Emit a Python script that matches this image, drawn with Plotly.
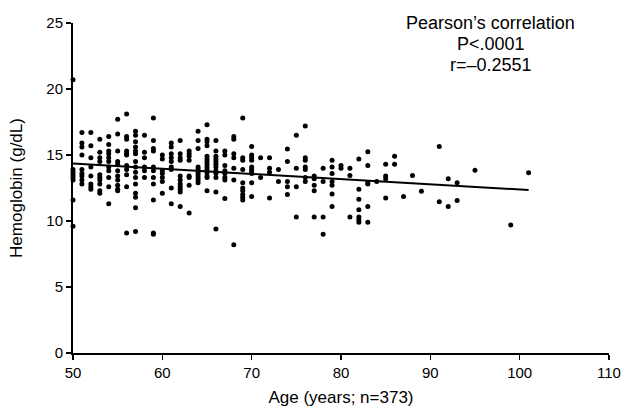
import plotly.graph_objects as go

# Points read per age column (age, hemoglobin g/dL)
age_50 = [20.7, 13.9, 13.7, 13.5, 13.3, 13.1, 11.6, 9.6]
age_51 = [16.7, 15.9, 15.6, 15.0, 13.9, 13.6, 13.4, 13.1, 12.8]
age_52 = [16.7, 15.7, 14.8, 14.1, 13.4, 12.8, 12.6, 12.4]
age_53 = [16.2, 15.2, 14.8, 14.5, 13.5, 13.3, 13.1, 12.8, 12.3, 12.1]
age_54 = [16.4, 15.8, 15.3, 15.1, 14.8, 14.5, 14.1, 13.8, 13.3, 12.6, 11.3]
age_55 = [17.7, 16.6, 15.3, 14.5, 14.3, 13.8, 13.4, 13.1, 12.7, 12.4, 12.3]
age_56 = [18.1, 16.4, 16.2, 15.3, 15.1, 15.0, 14.2, 13.9, 13.5, 12.6, 9.1]
age_57 = [16.8, 16.5, 16.0, 15.6, 15.3, 15.1, 14.5, 14.1, 13.7, 13.3, 12.8, 12.1, 11.8, 11.0, 9.2]
age_58 = [16.5, 15.2, 14.8, 14.1, 13.8, 13.3]
age_59 = [17.8, 16.1, 15.5, 15.3, 14.1, 13.8, 13.3, 12.8, 11.6, 9.1, 9.0]
age_60 = [15.0, 14.7, 13.8, 13.6, 13.3, 13.0, 12.1]
age_61 = [15.9, 15.6, 15.1, 14.8, 14.5, 14.1, 13.9, 12.5, 11.3]
age_62 = [16.1, 15.1, 14.8, 14.6, 13.4, 13.1, 12.8, 12.6, 12.4, 12.2, 11.1]
age_63 = [15.3, 15.1, 14.9, 14.6, 13.4, 13.3, 12.7, 10.6]
age_64 = [16.8, 16.1, 15.5, 14.1, 13.9, 13.7, 13.5, 13.3, 13.1, 12.9]
age_65 = [17.3, 16.2, 16.0, 15.7, 14.9, 14.7, 14.5, 14.3, 14.1, 13.9, 13.7, 13.4, 13.3, 12.3]
age_66 = [16.1, 15.3, 14.9, 14.7, 14.5, 14.3, 14.1, 13.8, 13.6, 13.3, 12.2, 9.4]
age_67 = [15.3, 15.0, 14.2, 13.8, 13.6, 13.3, 13.1, 11.7]
age_68 = [16.4, 16.2, 15.1, 14.8, 14.0, 13.1, 8.2]
age_69 = [17.8, 14.8, 14.6, 13.9, 12.9, 12.5, 12.3, 12.0, 11.8, 11.6]
age_70 = [15.65, 15.0, 14.8, 14.6, 14.1, 13.9, 13.75, 13.6, 12.9, 11.85]
age_71 = [14.8, 13.3]
age_72 = [14.8, 14.0, 13.7, 11.75]
age_73 = [13.9, 13.0]
age_74 = [15.45, 14.5, 13.0, 12.6, 12.0]
age_75 = [16.5, 14.0, 12.6, 10.3]
age_76 = [17.2, 14.8, 14.6, 14.1, 13.9, 13.3, 13.0]
age_77 = [13.4, 13.2, 12.7, 12.3, 10.3]
age_78 = [14.0, 13.0, 10.3, 9.0]
age_79 = [14.6, 14.1, 13.6, 13.0, 12.7, 12.05, 11.1]
age_80 = [14.2, 14.0]
age_81 = [14.0, 13.45, 10.3]
age_82 = [14.7, 12.4, 11.65, 10.85, 10.3, 10.1, 9.9]
age_83 = [15.25, 14.2, 12.9, 12.8, 11.1, 9.9]
age_84 = [13.0]
age_85 = [14.3, 13.4, 13.2, 11.75]
age_86 = [14.9, 14.3]
age_87 = [11.85]
age_88 = [13.45]
age_89 = [12.25]
age_91 = [15.65, 11.45]
age_92 = [13.2, 11.1]
age_93 = [12.9, 11.55]
age_95 = [13.85]
age_99 = [9.7]
age_101 = [13.65]

columns = {
    50: age_50, 51: age_51, 52: age_52, 53: age_53, 54: age_54, 55: age_55,
    56: age_56, 57: age_57, 58: age_58, 59: age_59, 60: age_60, 61: age_61,
    62: age_62, 63: age_63, 64: age_64, 65: age_65, 66: age_66, 67: age_67,
    68: age_68, 69: age_69, 70: age_70, 71: age_71, 72: age_72, 73: age_73,
    74: age_74, 75: age_75, 76: age_76, 77: age_77, 78: age_78, 79: age_79,
    80: age_80, 81: age_81, 82: age_82, 83: age_83, 84: age_84, 85: age_85,
    86: age_86, 87: age_87, 88: age_88, 89: age_89, 91: age_91, 92: age_92,
    93: age_93, 95: age_95, 99: age_99, 101: age_101,
}

# Regression line endpoints
fit_x = [50, 101]
fit_y = [14.35, 12.35]

x_ticks = [50, 60, 70, 80, 90, 100, 110]
y_ticks = [0, 5, 10, 15, 20, 25]

stats_lines = ["Pearson\u2019s correlation", "P<.0001", "r=\u20130.2551"]

xs, ys = [], []
for a, vals in columns.items():
    for v in vals:
        xs.append(a)
        ys.append(v)

FONT = "Liberation Sans, Arial, Helvetica, sans-serif"

fig = go.Figure()
fig.add_trace(go.Scatter(
    x=xs, y=ys, mode="markers",
    marker=dict(color="black", size=5),
    cliponaxis=False, showlegend=False,
))
fig.add_trace(go.Scatter(
    x=fit_x, y=fit_y, mode="lines",
    line=dict(color="black", width=2),
    cliponaxis=False, showlegend=False,
))

axis_common = dict(
    showline=True, linecolor="black", linewidth=2,
    ticks="outside", tickcolor="black", tickwidth=1.5, ticklen=5,
    showgrid=False, zeroline=False, automargin=False,
    tickfont=dict(family=FONT, size=15, color="black"),
)

fig.update_xaxes(
    range=[50, 110], tickvals=x_ticks,
    title=dict(text="Age (years; n=373)", font=dict(family=FONT, size=17, color="black"), standoff=11),
    **axis_common,
)
fig.update_yaxes(
    range=[0, 25], tickvals=y_ticks,
    title=dict(text="Hemoglobin (g/dL)", font=dict(family=FONT, size=17, color="black"), standoff=19),
    **axis_common,
)

W, H = 622, 411
L, R, T, B = 73, 13, 23, 58
plot_h = H - T - B

line_centers_px = [23, 44, 65]  # vertical centres on the page
for txt, cy in zip(stats_lines, line_centers_px):
    fig.add_annotation(
        x=(490.5 - L) / (W - L - R), y=(H - B - cy) / plot_h,
        xref="paper", yref="paper",
        xanchor="center", yanchor="middle",
        text=txt, showarrow=False, align="center",
        font=dict(family=FONT, size=18, color="black"),
    )

fig.update_layout(
    width=W, height=H,
    margin=dict(l=L, r=R, t=T, b=B),
    plot_bgcolor="white", paper_bgcolor="white",
    font=dict(family=FONT, color="black"),
    hovermode=False,
)

fig.write_html(
    "out.html",
    config={"displayModeBar": False, "staticPlot": True},
    post_script="document.body.style.margin='0';document.documentElement.style.overflow='hidden';",
)
